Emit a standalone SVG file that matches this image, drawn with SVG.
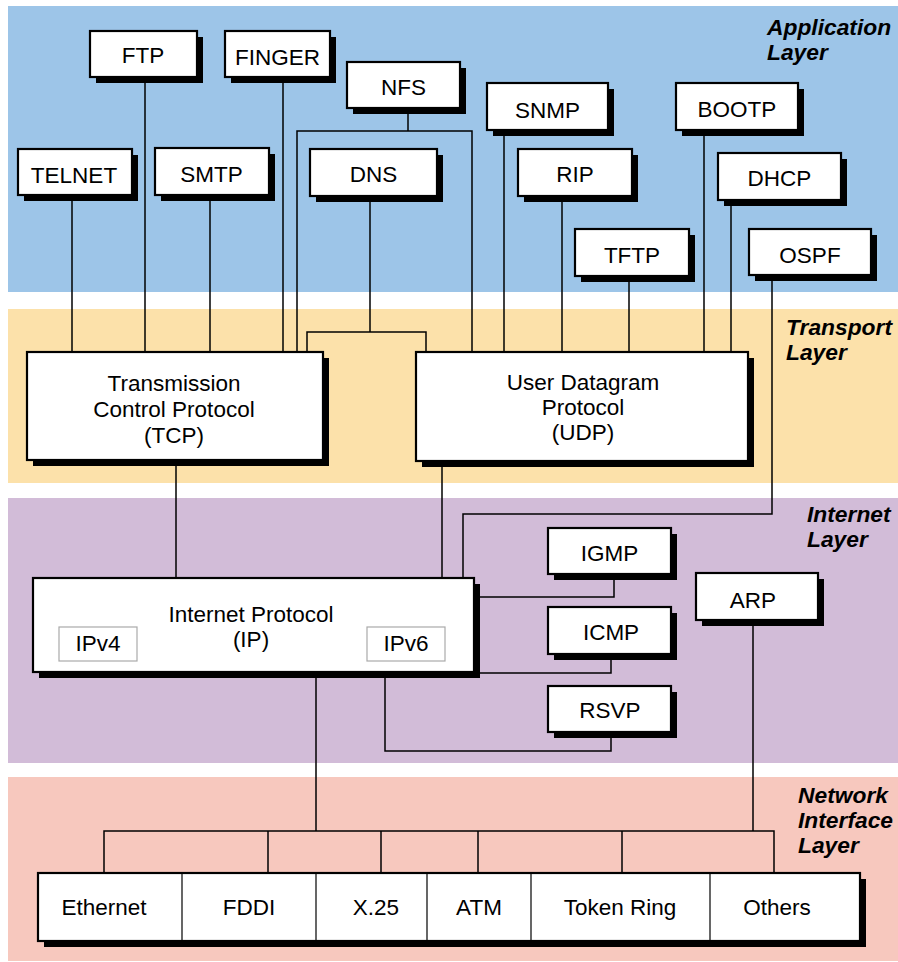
<svg xmlns="http://www.w3.org/2000/svg" width="898" height="962" viewBox="0 0 898 962">
<style>
.bg{fill:#ffffff}
.app{fill:#9DC5E8}
.trn{fill:#FCE1AA}
.inet{fill:#D2BCD8}
.net{fill:#F7C8BE}
.sh{fill:#000000}
.box{fill:#ffffff;stroke:#000000;stroke-width:2.2}
.sub{fill:#ffffff;stroke:#aaaaaa;stroke-width:1.2}
.div{stroke:#000000;stroke-width:1.2}
.conn{fill:none;stroke:#000000;stroke-width:1.5}
.t{font-family:"Liberation Sans",Arial,Helvetica,sans-serif;font-size:22.5px;fill:#000000;text-anchor:middle}
.ly{font-family:"Liberation Sans",Arial,Helvetica,sans-serif;font-size:22.8px;font-weight:bold;font-style:italic;fill:#000000}
</style>
<rect class="bg" x="0" y="0" width="898" height="962"/>
<g id="bands">
<rect class="app" x="8" y="6" width="890" height="286"/>
<rect class="trn" x="8" y="309" width="890" height="174"/>
<rect class="inet" x="8" y="498" width="890" height="265"/>
<rect class="net" x="8" y="777" width="890" height="184"/>
<text class="ly" x="767" y="35">Application</text>
<text class="ly" x="767" y="60">Layer</text>
<text class="ly" x="786" y="335">Transport</text>
<text class="ly" x="786" y="360">Layer</text>
<text class="ly" x="807" y="522">Internet</text>
<text class="ly" x="807" y="547">Layer</text>
<text class="ly" x="798" y="803">Network</text>
<text class="ly" x="798" y="828">Interface</text>
<text class="ly" x="798" y="853">Layer</text>
</g>
<g id="connectors">
<line class="conn" x1="72" y1="195" x2="72" y2="352"/>
<line class="conn" x1="145" y1="77" x2="145" y2="352"/>
<line class="conn" x1="210" y1="195" x2="210" y2="352"/>
<line class="conn" x1="283" y1="77" x2="283" y2="352"/>
<polyline class="conn" points="408,108 408,131"/>
<polyline class="conn" points="297,352 297,131 472,131 472,352"/>
<polyline class="conn" points="370,196 370,332"/>
<polyline class="conn" points="307,352 307,332 426,332 426,352"/>
<line class="conn" x1="504" y1="130" x2="504" y2="352"/>
<line class="conn" x1="562" y1="196" x2="562" y2="352"/>
<line class="conn" x1="629" y1="276" x2="629" y2="352"/>
<line class="conn" x1="704" y1="130" x2="704" y2="352"/>
<line class="conn" x1="731" y1="200" x2="731" y2="352"/>
<polyline class="conn" points="772,275 772,514 463,514 463,578"/>
<line class="conn" x1="176" y1="460" x2="176" y2="578"/>
<line class="conn" x1="442" y1="461" x2="442" y2="578"/>
<polyline class="conn" points="614,574 614,597 474,597"/>
<polyline class="conn" points="611,654 611,673 474,673"/>
<polyline class="conn" points="611,732 611,751 385,751 385,672"/>
<line class="conn" x1="316" y1="672" x2="316" y2="831"/>
<line class="conn" x1="753" y1="620" x2="753" y2="831"/>
<polyline class="conn" points="104,873 104,831 774,831 774,873"/>
<line class="conn" x1="268" y1="831" x2="268" y2="873"/>
<line class="conn" x1="381" y1="831" x2="381" y2="873"/>
<line class="conn" x1="478" y1="831" x2="478" y2="873"/>
<line class="conn" x1="622" y1="831" x2="622" y2="873"/>
</g>
<g id="ftp"><rect class="sh" x="96" y="37" width="107" height="46"/><rect class="box" x="90" y="31" width="107" height="46"/><text class="t" x="143" y="63">FTP</text></g>
<g id="finger"><rect class="sh" x="231" y="37" width="105" height="46"/><rect class="box" x="225" y="31" width="105" height="46"/><text class="t" x="277.5" y="65">FINGER</text></g>
<g id="nfs"><rect class="sh" x="353" y="68" width="113" height="46"/><rect class="box" x="347" y="62" width="113" height="46"/><text class="t" x="403.5" y="95">NFS</text></g>
<g id="snmp"><rect class="sh" x="493" y="89" width="121" height="47"/><rect class="box" x="487" y="83" width="121" height="47"/><text class="t" x="547.5" y="118">SNMP</text></g>
<g id="bootp"><rect class="sh" x="682" y="89" width="122" height="47"/><rect class="box" x="676" y="83" width="122" height="47"/><text class="t" x="737" y="117">BOOTP</text></g>
<g id="telnet"><rect class="sh" x="24" y="155" width="114" height="46"/><rect class="box" x="18" y="149" width="114" height="46"/><text class="t" x="74" y="183">TELNET</text></g>
<g id="smtp"><rect class="sh" x="161" y="154" width="114" height="47"/><rect class="box" x="155" y="148" width="114" height="47"/><text class="t" x="211.5" y="182">SMTP</text></g>
<g id="dns"><rect class="sh" x="316" y="155" width="127" height="47"/><rect class="box" x="310" y="149" width="127" height="47"/><text class="t" x="373.5" y="182">DNS</text></g>
<g id="rip"><rect class="sh" x="524" y="155" width="114" height="47"/><rect class="box" x="518" y="149" width="114" height="47"/><text class="t" x="575" y="182">RIP</text></g>
<g id="dhcp"><rect class="sh" x="724" y="159" width="123" height="47"/><rect class="box" x="718" y="153" width="123" height="47"/><text class="t" x="779.5" y="186">DHCP</text></g>
<g id="tftp"><rect class="sh" x="581" y="235" width="114" height="47"/><rect class="box" x="575" y="229" width="114" height="47"/><text class="t" x="632" y="263">TFTP</text></g>
<g id="ospf"><rect class="sh" x="755" y="235" width="122" height="46"/><rect class="box" x="749" y="229" width="122" height="46"/><text class="t" x="810" y="263">OSPF</text></g>
<g id="tcp"><rect class="sh" x="33" y="358" width="296" height="108"/><rect class="box" x="27" y="352" width="296" height="108"/><text class="t" x="174" y="391">Transmission</text><text class="t" x="174" y="417">Control Protocol</text><text class="t" x="174" y="443">(TCP)</text></g>
<g id="udp"><rect class="sh" x="422" y="358" width="332" height="109"/><rect class="box" x="416" y="352" width="332" height="109"/><text class="t" x="583" y="390">User Datagram</text><text class="t" x="583" y="415">Protocol</text><text class="t" x="583" y="440">(UDP)</text></g>
<g id="ip"><rect class="sh" x="39" y="584" width="441" height="94"/><rect class="box" x="33" y="578" width="441" height="94"/><text class="t" x="251" y="622">Internet Protocol</text><text class="t" x="251" y="647">(IP)</text>
<g id="ipv4"><rect class="sub" x="59" y="627" width="78" height="34"/><text class="t" x="98" y="651">IPv4</text></g>
<g id="ipv6"><rect class="sub" x="367" y="627" width="78" height="34"/><text class="t" x="406" y="651">IPv6</text></g></g>
<g id="igmp"><rect class="sh" x="554" y="534" width="123" height="46"/><rect class="box" x="548" y="528" width="123" height="46"/><text class="t" x="609.5" y="561">IGMP</text></g>
<g id="icmp"><rect class="sh" x="554" y="613" width="123" height="47"/><rect class="box" x="548" y="607" width="123" height="47"/><text class="t" x="611" y="640">ICMP</text></g>
<g id="rsvp"><rect class="sh" x="554" y="692" width="123" height="46"/><rect class="box" x="548" y="686" width="123" height="46"/><text class="t" x="610" y="718">RSVP</text></g>
<g id="arp"><rect class="sh" x="702" y="579" width="122" height="47"/><rect class="box" x="696" y="573" width="122" height="47"/><text class="t" x="753" y="608">ARP</text></g>
<g id="netif">
<rect class="sh" x="44" y="879" width="822" height="68"/>
<rect class="box" x="38" y="873" width="822" height="68"/>
<line class="div" x1="182" y1="873" x2="182" y2="941"/>
<line class="div" x1="316" y1="873" x2="316" y2="941"/>
<line class="div" x1="427" y1="873" x2="427" y2="941"/>
<line class="div" x1="531" y1="873" x2="531" y2="941"/>
<line class="div" x1="710" y1="873" x2="710" y2="941"/>
<g id="ethernet"><text class="t" x="104" y="915">Ethernet</text></g>
<g id="fddi"><text class="t" x="249" y="915">FDDI</text></g>
<g id="x25"><text class="t" x="376" y="915">X.25</text></g>
<g id="atm"><text class="t" x="479" y="915">ATM</text></g>
<g id="tokenring"><text class="t" x="620" y="915">Token Ring</text></g>
<g id="others"><text class="t" x="777" y="915">Others</text></g>
</g>
</svg>
